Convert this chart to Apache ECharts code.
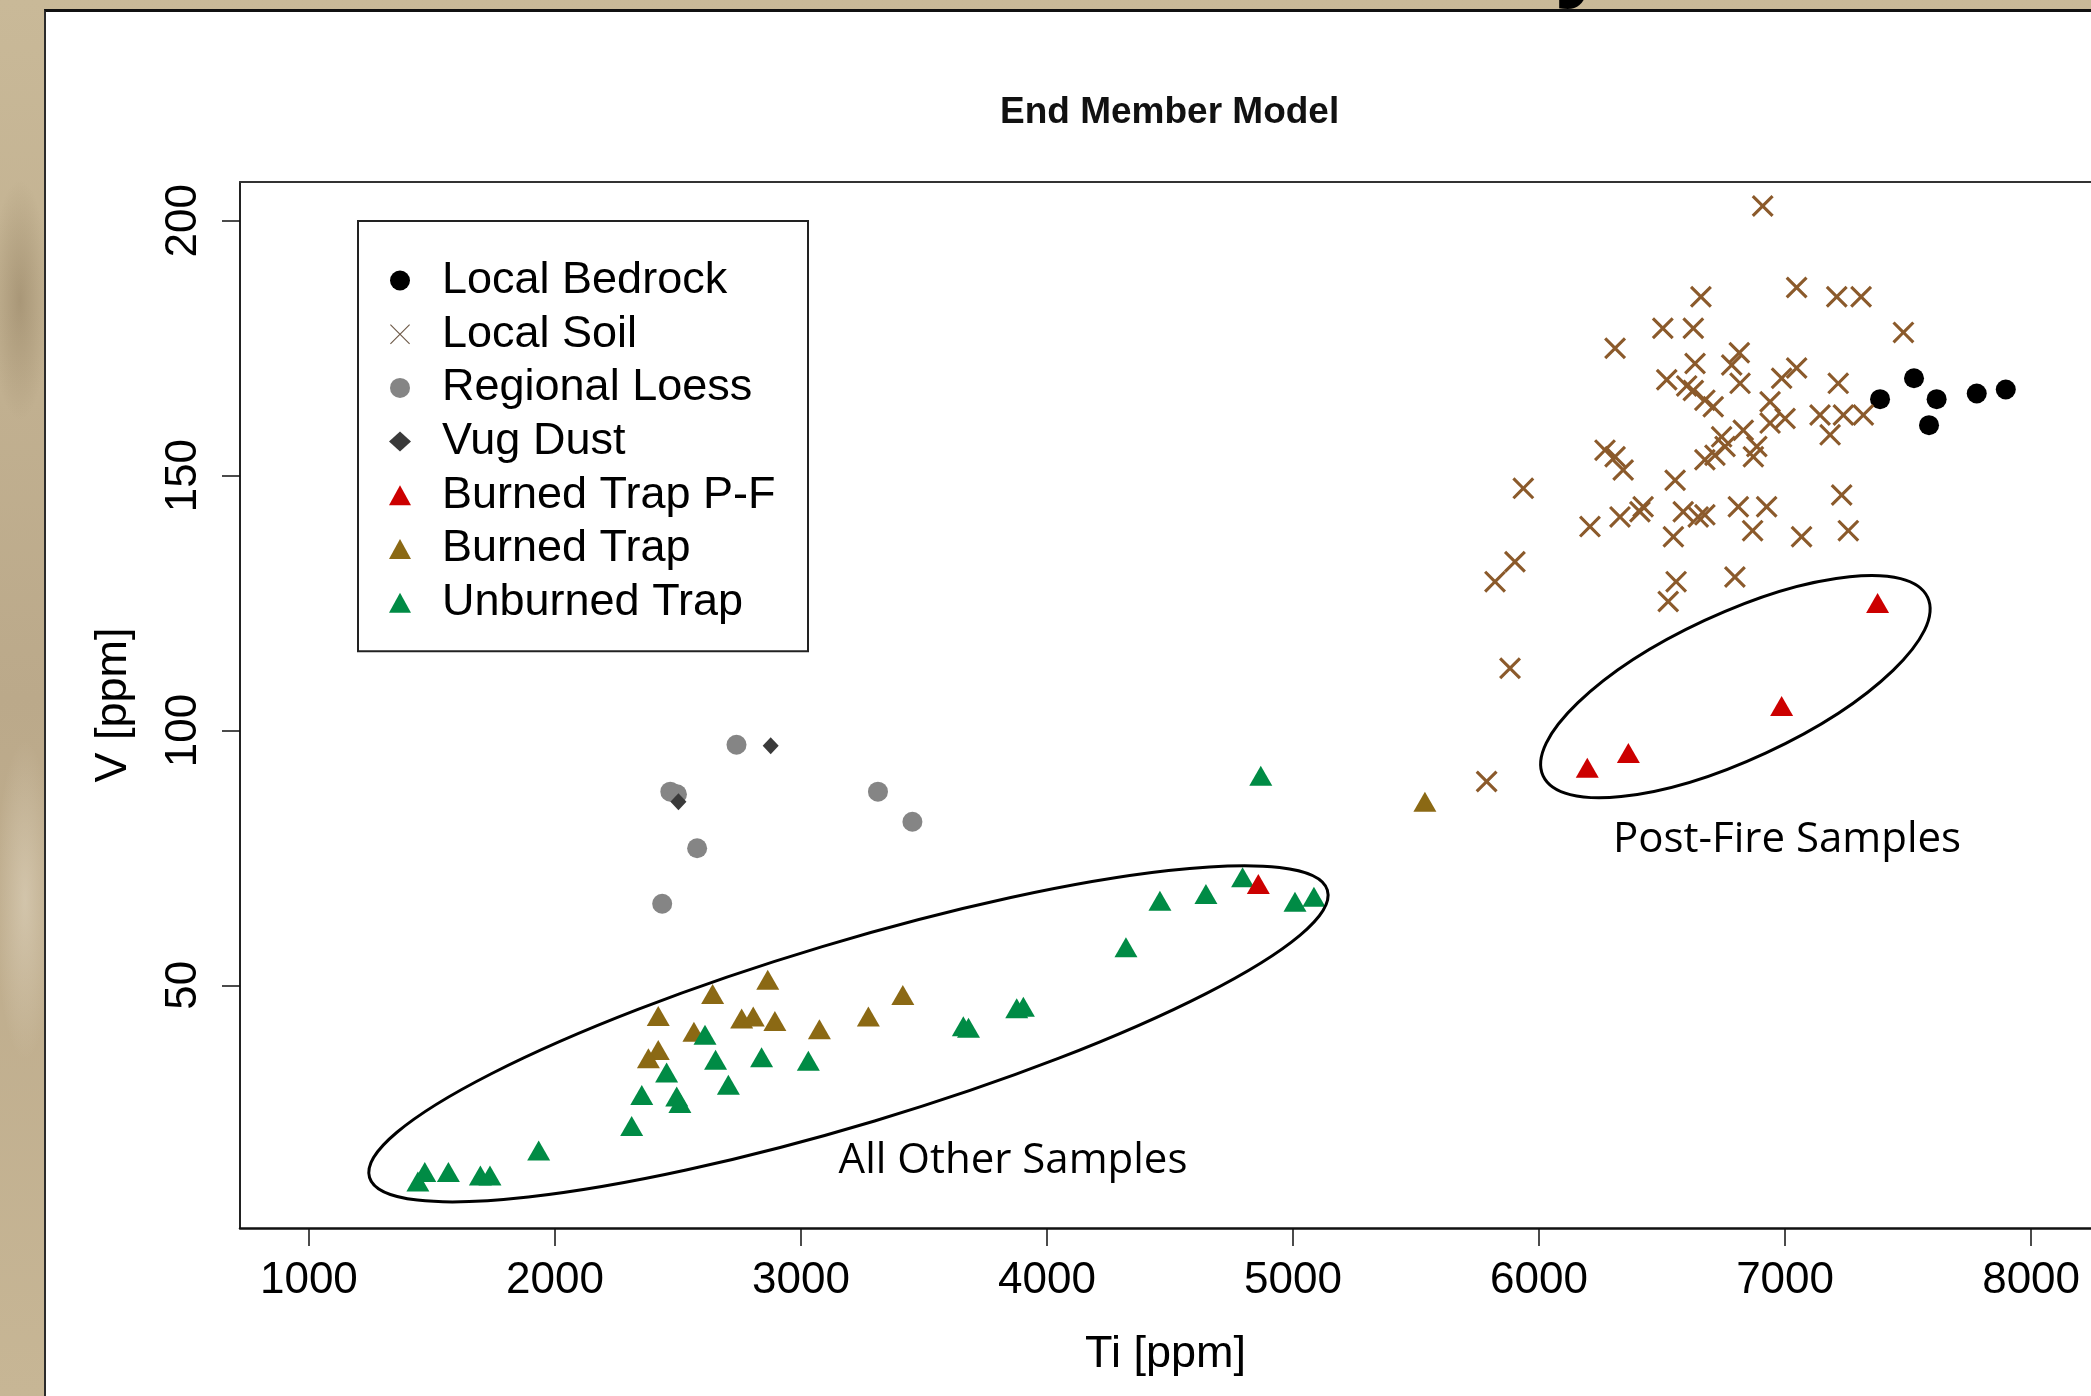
<!DOCTYPE html>
<html>
<head>
<meta charset="utf-8">
<script src="https://cdn.jsdelivr.net/npm/echarts@6/dist/echarts.min.js"></script>
<style>
html,body{margin:0;padding:0;width:2091px;height:1396px;overflow:hidden;}
body{background:#c3b291;background-image:
  radial-gradient(ellipse 30px 120px at 20px 300px, rgba(120,100,70,0.35), rgba(0,0,0,0)),
  radial-gradient(ellipse 30px 160px at 25px 900px, rgba(230,220,200,0.5), rgba(0,0,0,0)),
  linear-gradient(180deg,#c9b998,#bba98a 50%,#c7b695);}
#panel{position:absolute;left:44px;top:9px;width:2047px;height:1387px;background:#fff;
  border-left:2px solid #2b2b2b;border-top:3px solid #111;box-sizing:border-box;}
#chart{position:absolute;left:0;top:0;width:2091px;height:1396px;}
#cut{position:absolute;left:1540px;top:0;width:80px;height:9px;overflow:hidden;}
#cut span{position:absolute;left:14px;top:-97px;font:bold 100px/100px "Liberation Sans",Arial,sans-serif;color:#000;}
</style>
</head>
<body>
<div id="panel"></div>
<div id="cut"><span>y</span></div>
<div id="chart"></div>
<script>
// ---- tick labels ----
const xTicks = [1000, 2000, 3000, 4000, 5000, 6000, 7000, 8000];
const yTicks = [50, 100, 150, 200];

// ---- series values [Ti ppm, V ppm] ----
const localBedrock = [[7386,165.0],[7524,169.1],[7616,165.0],[7585,159.9],[7779,166.1],[7897,166.9]];

const localSoil = [
  [6909,202.9],[6658,185.1],[7047,186.9],[7210,185.1],[7309,185.1],[7481,178.1],[6503,178.9],[6627,178.9],
  [6309,175.0],[6634,172.0],[6814,174.1],[6783,171.7],[7047,171.1],[6519,168.8],[6600,167.6],[6627,166.7],
  [6817,168.1],[6986,169.1],[7216,168.1],[6674,164.8],[6708,163.5],[6939,164.5],[7142,161.9],[7237,161.9],
  [7318,161.9],[7000,161.2],[6939,160.3],[7183,158.0],[6830,158.9],[6742,157.6],[6756,155.7],[6885,155.7],
  [6871,153.7],[6674,153.1],[6715,154.0],[6268,155.0],[6309,153.7],[6342,151.1],[6553,149.1],[7230,146.2],
  [5936,147.5],[6207,140.0],[6329,141.9],[6410,142.9],[6423,143.9],[6586,142.9],[6647,141.9],[6674,142.3],
  [6546,138.0],[6810,143.9],[6925,143.9],[6868,139.2],[7067,138.0],[7257,139.2],[5902,133.1],[5821,129.2],
  [6557,129.2],[6525,125.3],[6796,130.1],[5882,112.2],[5787,90.0]
];

const regionalLoess = [[2738,97.2],[2469,88.0],[2496,87.5],[3313,88.0],[3453,82.1],[2578,76.9],[2436,66.0]];

const vugDust = [[2877,97.0],[2502,86.0]];

const burnedTrapPF = [[7376,125.0],[6986,104.8],[6363,95.6],[6196,92.7],[4859,69.9]];

const burnedTrap = [
  [5536,86.0],[2865,51.1],[2641,48.3],[3414,48.1],[2420,44.0],[2759,43.5],[2806,43.9],[2894,43.0],
  [3274,43.9],[3075,41.4],[2565,40.9],[2420,37.3],[2380,35.7]
];

const unburnedTrap = [
  [4869,91.1],[4795,71.2],[4646,67.9],[4459,66.6],[5008,66.4],[5085,67.4],[4321,57.5],[3877,45.5],
  [3904,45.8],[3660,42.0],[3681,41.7],[2610,40.3],[2653,35.4],[2840,35.9],[3030,35.2],[2454,32.9],
  [2705,30.5],[2353,28.5],[2495,28.2],[2508,26.9],[2312,22.4],[1934,17.6],[1443,11.5],[1471,13.4],
  [1567,13.4],[1697,12.7],[1736,12.7]
];

// ---- annotations (data coordinates) ----
const ellipseNotes = [
  {center:[3193,40.5], rx:500, ry:91, angleDeg:16.7},
  {center:[6798,108.6], rx:212, ry:73, angleDeg:24.9}
];
const textNotes = [
  {text:'All Other Samples', at:[3862,15.5]},
  {text:'Post-Fire Samples', at:[7008,78.5]}
];

const FONT = '"Liberation Sans", Arial, Helvetica, sans-serif';
const X_SYMBOL = 'path://M10,0L50,40L90,0L100,10L60,50L100,90L90,100L50,60L10,100L0,90L40,50L0,10Z';
const X_THIN = 'path://M4,0L50,46L96,0L100,4L54,50L100,96L96,100L50,54L4,100L0,96L46,50L0,4Z';
const X_MIN = 720, X_MAX = 8243.4;

const chart = echarts.init(document.getElementById('chart'), null, {renderer:'canvas'});

function scatter(name, data, symbol, size, color) {
  return {name: name, type: 'scatter', data: data, symbol: symbol, symbolSize: size,
          itemStyle: {color: color, opacity: 1}, emphasis: {disabled: true}};
}

const option = {
  animation: false,
  backgroundColor: 'transparent',
  title: {
    text: 'End Member Model',
    left: 1000, top: 94, padding: 0,
    textStyle: {fontFamily: FONT, fontSize: 37, fontWeight: 'bold', color: '#111'}
  },
  legend: {
    orient: 'vertical', left: 358, top: 221,
    padding: [37, 26, 26, 31],
    itemWidth: 22, itemHeight: 20, itemGap: 8.7,
    borderColor: '#222', borderWidth: 2, backgroundColor: '#fff',
    selectedMode: false,
    textStyle: {fontFamily: FONT, fontSize: 45, color: '#000', lineHeight: 45, width: 340, padding: [0,0,0,26]},
    data: [
      {name: 'Local Bedrock'},
      {name: 'Local Soil', icon: X_THIN, itemStyle: {color: '#6e5a48'}},
      {name: 'Regional Loess'},
      {name: 'Vug Dust'},
      {name: 'Burned Trap P-F'},
      {name: 'Burned Trap'},
      {name: 'Unburned Trap'}
    ]
  },
  grid: {
    left: 240, top: 182, right: 0, bottom: 168, show: false
  },
  xAxis: [{
    type: 'value', min: X_MIN, max: X_MAX, position: 'bottom',
    name: 'Ti [ppm]', nameLocation: 'middle', nameGap: 104,
    nameTextStyle: {fontFamily: FONT, fontSize: 45, color: '#000'},
    axisLine: {show: true, onZero: false, lineStyle: {color: '#111', width: 2.5}},
    axisTick: {show: true, customValues: xTicks, length: 18, lineStyle: {color: '#111', width: 1.5}},
    axisLabel: {show: true, customValues: xTicks, margin: 31, fontFamily: FONT, fontSize: 44, color: '#000',
                formatter: function (v) { return String(v); }},
    splitLine: {show: false}
  }, {
    type: 'value', min: X_MIN, max: X_MAX, position: 'top',
    axisLine: {show: true, onZero: false, lineStyle: {color: '#333', width: 2}},
    axisTick: {show: false}, axisLabel: {show: false}, splitLine: {show: false}
  }],
  yAxis: {
    type: 'value', min: 2.4, max: 207.6,
    name: 'V [ppm]', nameLocation: 'middle', nameGap: 104, nameRotate: 90,
    nameTextStyle: {fontFamily: FONT, fontSize: 45, color: '#000'},
    axisLine: {show: true, onZero: false, lineStyle: {color: '#222', width: 2}},
    axisTick: {show: true, customValues: yTicks, length: 18, lineStyle: {color: '#111', width: 1.5}},
    axisLabel: {show: true, customValues: yTicks, rotate: 90, margin: 34, fontFamily: FONT, fontSize: 44, color: '#000',
                formatter: function (v) { return String(v); }},
    splitLine: {show: false}
  },
  series: [
    scatter('Local Bedrock', localBedrock, 'circle', 20, '#000'),
    scatter('Local Soil', localSoil, X_SYMBOL, 22, '#8b5a2b'),
    scatter('Regional Loess', regionalLoess, 'circle', 20, '#858585'),
    scatter('Vug Dust', vugDust, 'diamond', [16, 17], '#3a3a3a'),
    scatter('Burned Trap', burnedTrap, 'triangle', [23, 20], '#8b6914'),
    scatter('Unburned Trap', unburnedTrap, 'triangle', [23, 20], '#008b45'),
    scatter('Burned Trap P-F', burnedTrapPF, 'triangle', [23, 20], '#cc0000')
  ]
};

chart.setOption(option);

const graphics = [];
ellipseNotes.forEach(function (e) {
  const p = chart.convertToPixel({xAxisIndex: 0, yAxisIndex: 0}, e.center);
  graphics.push({
    type: 'ellipse', x: p[0], y: p[1], rotation: e.angleDeg * Math.PI / 180,
    shape: {cx: 0, cy: 0, rx: e.rx, ry: e.ry},
    style: {fill: 'none', stroke: '#000', lineWidth: 3}, z: 20, silent: true
  });
});
textNotes.forEach(function (t) {
  const p = chart.convertToPixel({xAxisIndex: 0, yAxisIndex: 0}, t.at);
  graphics.push({
    type: 'text', x: p[0], y: p[1], z: 20, silent: true,
    style: {text: t.text, font: '42px "Open Sans", "Noto Sans", sans-serif', fill: '#000',
            align: 'center', verticalAlign: 'middle'}
  });
});
chart.setOption({graphic: graphics});
</script>
</body>
</html>
